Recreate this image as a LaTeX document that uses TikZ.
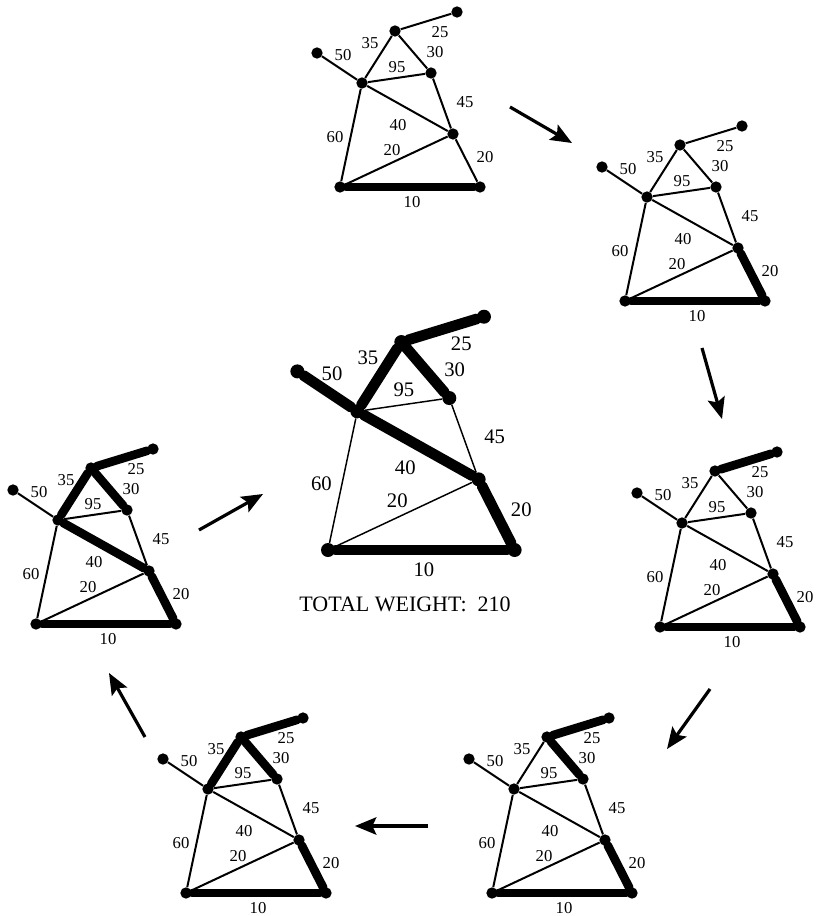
\documentclass[tikz,border=0pt]{standalone}
\usepackage{fontspec}
\setmainfont{Liberation Serif}
\usetikzlibrary{arrows.meta}

\tikzset{
  vtx/.style={circle, fill=black, inner sep=0pt, minimum size=8.5pt},
  edge/.style={line width=1.5pt},
  tree/.style={line width=6.5pt, line cap=round},
  wt/.style={font=\fontsize{12.5}{14}\selectfont, inner sep=0pt},
  flow/.style={line width=2.4pt, -{Stealth[length=16pt, width=13pt, inset=3pt]}}
}

% one stage of the spanning tree: #1 prefix, #2 where G sits, #3 scale, #4 extra options, #5 chosen edges
\newcommand{\stage}[5]{%
  \begin{scope}[shift={#2}, scale=#3, #4]
    \foreach \n/\x/\y in {A/-23/-134, B/22/-104, C/55/-156, D/117/-175, E/91/-114, F/113/-53, G/0/0, H/140/0}
      \node[vtx] (#1\n) at (\x,\y) {};
    \foreach \u/\v in {A/B, B/C, C/D, C/E, B/E, B/F, E/F, B/G, G/F, F/H, G/H}
      \draw[edge] (#1\u) -- (#1\v);
    \foreach \u/\v in {#5}
      \draw[tree] (#1\u) -- (#1\v);
    \foreach \t/\x/\y [count=\i] in {50/3/-132, 35/30/-144, 25/100/-155, 30/95/-135, 95/57/-120,
        45/125/-85, 40/58/-62, 60/-5/-50, 20/52/-37, 20/145/-30, 10/72/15}
      \node[wt] (#1w\i) at (\x,\y) {\t};
  \end{scope}}

\begin{document}
\begin{tikzpicture}[x=0.75pt, y=-0.75pt]
  \useasboundingbox (0,0) rectangle (816,916);

  \stage{s1-}{(340,187)}{1}{}{G/H}
  \stage{s2-}{(625,301)}{1}{}{G/H, F/H}
  \stage{s3-}{(660,627)}{1}{}{G/H, F/H, C/D}
  \stage{s4-}{(492,893)}{1}{}{G/H, F/H, C/D, C/E}
  \stage{s5-}{(186,893)}{1}{}{G/H, F/H, C/D, C/E, B/C}
  \stage{s6-}{(36,624)}{1}{}{G/H, F/H, C/D, C/E, B/C, B/F}
  % final tree, drawn larger
  \stage{fin-}{(328,550)}{1.333}{vtx/.append style={minimum size=10.5pt},
      edge/.append style={line width=1.1pt}, tree/.append style={line width=8pt},
      wt/.append style={font=\fontsize{15.5}{17}\selectfont}}{G/H, F/H, C/D, C/E, B/C, B/F, A/B}

  \node[font=\fontsize{16.5}{18}\selectfont] (total) at (405,604) {TOTAL WEIGHT:~ 210};

  % arrows between the stages
  \foreach \i/\sx/\sy/\tx/\ty in {1/510/107/572/143, 2/702/348/722/419, 3/710/689/667/749,
      4/428/826/355/826, 5/145/737/109/673, 6/199/530/263/494} {
    \coordinate (a\i) at (\sx,\sy);
    \coordinate (b\i) at (\tx,\ty);
    \draw[flow] (a\i) -- (b\i);
  }
\end{tikzpicture}
\end{document}
